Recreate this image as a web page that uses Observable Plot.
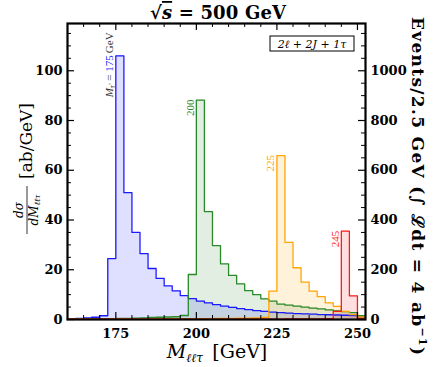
<!DOCTYPE html>
<html><head><meta charset="utf-8">
<script src="https://cdn.jsdelivr.net/npm/d3@7"></script>
<script src="https://cdn.jsdelivr.net/npm/@observablehq/plot@0.6"></script>
<style>body{margin:0;background:#fff} svg{display:block}</style>
</head><body><div id="chart"></div>
<script>
// bin starts (GeV), bins are 2.5 GeV wide
const binStarts = [160,162.5,165,167.5,170,172.5,175,177.5,180,182.5,185,187.5,190,192.5,195,197.5,200,202.5,205,207.5,210,212.5,215,217.5,220,222.5,225,227.5,230,232.5,235,237.5,240,242.5,245,247.5,250];
const binWidth = 2.5;
// dσ/dM (ab/GeV) for each M_τ'
const mass175 = [0.3,0.4,0.6,0.9,1.5,24.5,106,51,35,26.5,20.5,16.5,13.5,11.5,9.6,8.4,7.4,6.7,6.0,5.4,4.9,4.4,4.0,3.6,3.3,3.0,2.8,2.6,2.4,2.3,2.2,2.0,1.9,1.8,1.7,1.6,1.0];
const mass200 = [0.2,0.2,0.2,0.3,0.3,0.3,0.4,0.4,0.5,0.6,0.8,0.9,1.0,1.1,1.6,18.1,88.2,43.4,29.7,22.4,17.7,14.3,11.6,10.0,8.3,7.4,6.2,5.8,5.4,5.0,4.6,4.3,3.9,3.5,3.2,2.8,1.5];
const mass225 = [0.1,0.1,0.1,0.1,0.1,0.1,0.2,0.2,0.2,0.2,0.2,0.2,0.2,0.3,0.3,0.3,0.3,0.3,0.4,0.4,0.4,0.5,0.5,0.6,0.8,11.4,65.9,31.0,20.8,15.0,11.4,9.2,6.7,5.3,3.3,2.0,1.0];
const mass245 = [0.1,0.1,0.1,0.1,0.1,0.1,0.1,0.1,0.1,0.1,0.1,0.1,0.1,0.1,0.1,0.1,0.1,0.1,0.1,0.1,0.1,0.1,0.1,0.1,0.1,0.1,0.1,0.2,0.2,0.2,0.2,0.2,0.3,3.3,35.5,9.5,0.3];
const peakLabels = ["175","200","225","245"];
const seriesColors = ["#1a1aff","#2a8a2a","#ffa500","#ff1a1a"];
const xTickLabels = [175,200,225,250];
const xMinorTicks = [160,165,170,180,185,190,195,205,210,215,220,230,235,240,245];
const yTickLabels = [0,20,40,60,80,100];
const yMinorTicks = [5,10,15,25,30,35,45,50,55,65,70,75,85,90,95,105,110,115];
const eventsPerUnit = 10; // 2.5 GeV × 4 ab^-1

const seriesValues = [mass175, mass200, mass225, mass245];
const series = seriesValues.map((vals, k) => {
  const pts = binStarts.map((s, i) => ({x: s, y: vals[i]}));
  pts.push({x: binStarts[binStarts.length - 1] + binWidth, y: vals[vals.length - 1]});
  return {label: peakLabels[k], color: seriesColors[k], pts, vals};
});

const W = 436, H = 367, mL = 67, mR = 71, mT = 23, mB = 48;
const iW = W - mL - mR, iH = H - mT - mB;
const major = 7, minor = 4;

const marks = [];
for (const s of series) marks.push(Plot.areaY(s.pts, {x: "x", y: "y", curve: "step-after", fill: s.color, fillOpacity: 0.14}));
for (const s of series) marks.push(Plot.lineY(s.pts, {x: "x", y: "y", curve: "step-after", stroke: s.color, strokeWidth: 1.3}));
marks.push(
  Plot.ruleX(xTickLabels, {insetTop: iH - major, stroke: "black", strokeWidth: 1.2}),
  Plot.ruleX(xTickLabels, {insetBottom: iH - major, stroke: "black", strokeWidth: 1.2}),
  Plot.ruleX(xMinorTicks, {insetTop: iH - minor, stroke: "black", strokeWidth: 1}),
  Plot.ruleX(xMinorTicks, {insetBottom: iH - minor, stroke: "black", strokeWidth: 1}),
  Plot.ruleY(yTickLabels, {insetRight: iW - major, stroke: "black", strokeWidth: 1.2}),
  Plot.ruleY(yTickLabels, {insetLeft: iW - major, stroke: "black", strokeWidth: 1.2}),
  Plot.ruleY(yMinorTicks, {insetRight: iW - minor, stroke: "black", strokeWidth: 1}),
  Plot.ruleY(yMinorTicks, {insetLeft: iW - minor, stroke: "black", strokeWidth: 1}),
  Plot.frame({stroke: "black", strokeWidth: 2.2}),
  Plot.axisX(xTickLabels, {tickSize: 0, tickPadding: 9, label: null, fontSize: 13, fontWeight: "bold"}),
  Plot.axisY(yTickLabels, {anchor: "left", tickSize: 0, tickPadding: 5, label: null, fontSize: 13, fontWeight: "bold"}),
  Plot.axisY(yTickLabels, {anchor: "right", tickSize: 0, tickPadding: 5, label: null, fontSize: 13, fontWeight: "bold", tickFormat: d => String(d * eventsPerUnit)})
);

const plot = Plot.plot({
  width: W, height: H, marginLeft: mL, marginRight: mR, marginTop: mT, marginBottom: mB,
  x: {domain: [160, 252.5]},
  y: {domain: [0, 119]},
  style: {fontFamily: "DejaVu Serif", background: "white", color: "black"},
  marks
});
document.getElementById("chart").appendChild(plot);

const xs = plot.scale("x"), ys = plot.scale("y");
const svg = d3.select(plot);
const g = svg.append("g").attr("font-family", "DejaVu Serif");

// title
const tt = g.append("text").attr("x", 218).attr("y", 19).attr("text-anchor", "middle")
  .attr("font-size", 18).attr("font-weight", "bold").attr("textLength", 136).attr("lengthAdjust", "spacing");
tt.append("tspan").text("√");
tt.append("tspan").attr("font-style", "italic").style("text-decoration", "overline").text("s");
tt.append("tspan").text(" = 500 GeV");

// x label
const xl = g.append("text").attr("x", 217).attr("y", 358).attr("text-anchor", "middle").attr("font-size", 19);
xl.append("tspan").attr("font-style", "italic").text("M");
xl.append("tspan").attr("font-style", "italic").attr("font-size", 12).attr("dy", 4).text("ℓℓτ");
xl.append("tspan").attr("dy", -4).text("\u2002[GeV]");

// left y label
const yl = g.append("g").attr("transform", "translate(32,170) rotate(-90)");
yl.append("text").attr("x", -40).attr("y", -9).attr("text-anchor", "middle").attr("font-size", 12).attr("font-style", "italic").text("dσ");
yl.append("line").attr("x1", -64).attr("x2", -16).attr("y1", -5).attr("y2", -5).attr("stroke", "black").attr("stroke-width", 0.8);
const den = yl.append("text").attr("x", -40).attr("y", 6).attr("text-anchor", "middle").attr("font-size", 12).attr("font-style", "italic");
den.append("tspan").text("dM");
den.append("tspan").attr("font-size", 8).attr("dy", 2).text("ℓℓτ");
yl.append("text").attr("x", -9).attr("y", 0).attr("text-anchor", "start").attr("font-size", 17).text("[ab/GeV]");

// right y label
const yr = g.append("text").attr("transform", "translate(412,186) rotate(90)").attr("text-anchor", "middle")
  .attr("font-size", 17).attr("font-weight", "bold").attr("textLength", 338).attr("lengthAdjust", "spacing");
yr.append("tspan").text("Events/2.5 GeV (∫ ℒdt = 4 ab");
yr.append("tspan").attr("font-size", 11).attr("dy", -7).text("−1");
yr.append("tspan").attr("dy", 7).text(")");

// legend box
g.append("rect").attr("x", 270).attr("y", 36).attr("width", 84).attr("height", 15).attr("fill", "white").attr("stroke", "black").attr("stroke-width", 1);
g.append("text").attr("x", 312).attr("y", 47.5).attr("text-anchor", "middle").attr("font-size", 11).attr("font-style", "italic").text("2ℓ + 2J + 1τ");

// peak labels
series.forEach((s, k) => {
  const i = s.vals.indexOf(Math.max(...s.vals));
  const px = xs.apply(binStarts[i]) - 2, py = ys.apply(s.vals[i]);
  const t = g.append("text").attr("transform", `translate(${px},${py}) rotate(-90)`)
    .attr("text-anchor", "end").attr("font-family", "Liberation Serif").attr("font-size", 11).attr("fill", s.color);
  if (k === 0) {
    t.append("tspan").attr("fill", "#333").attr("font-style", "italic").text("M");
    t.append("tspan").attr("fill", "#333").attr("font-style", "italic").attr("font-size", 8).attr("dy", 2).text("τ'");
    t.append("tspan").attr("fill", "#333").attr("dy", -2).text(" = ");
    t.append("tspan").text(s.label);
    g.append("text").attr("transform", `translate(${px},${py}) rotate(-90)`).attr("text-anchor", "start")
      .attr("font-family", "Liberation Serif").attr("font-size", 11).attr("fill", "#333").text("\u2009GeV");
  } else {
    t.text(s.label);
  }
});
</script>
</body></html>
